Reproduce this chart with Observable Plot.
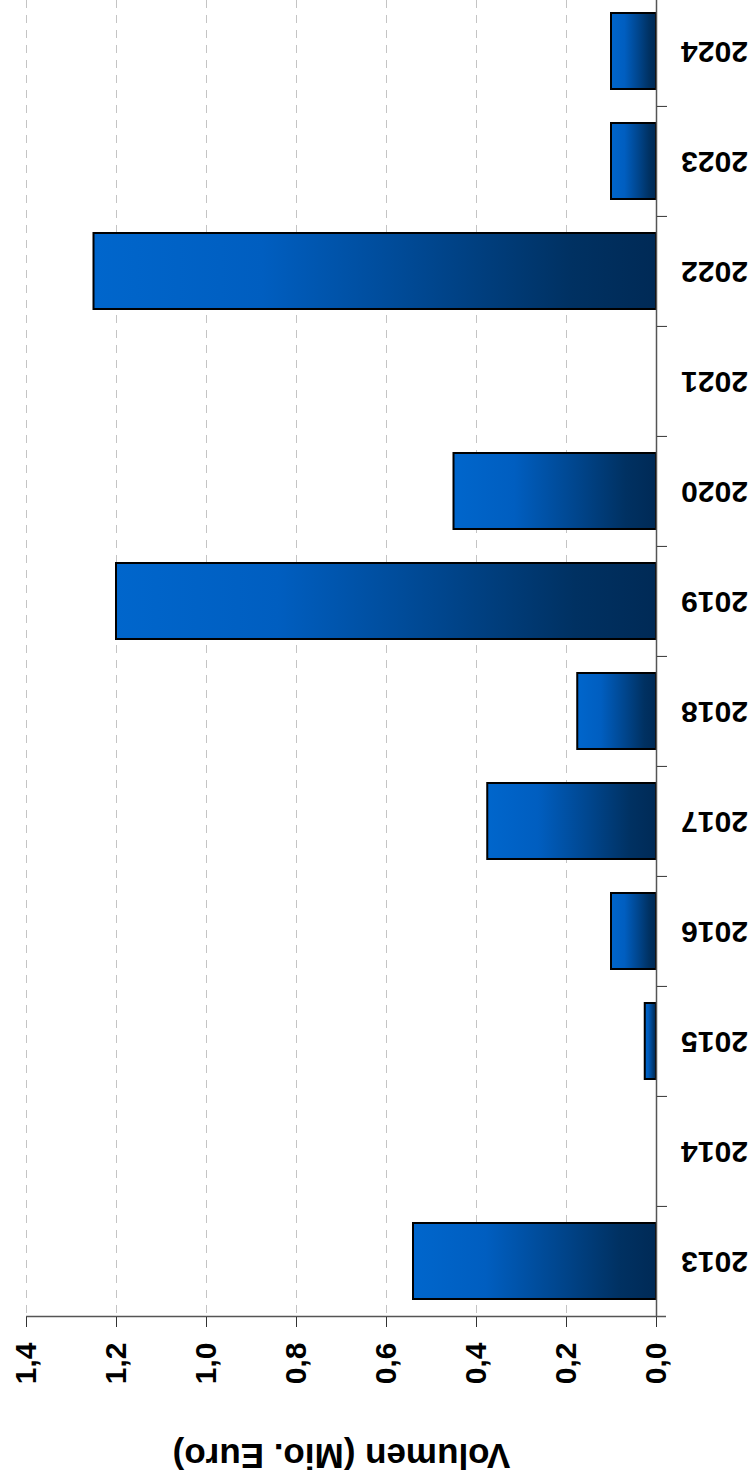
<!DOCTYPE html>
<html>
<head>
<meta charset="utf-8">
<script src="https://cdn.jsdelivr.net/npm/d3@7"></script>
<script src="https://cdn.jsdelivr.net/npm/@observablehq/plot@0.6"></script>
<style>
  html, body { margin: 0; padding: 0; background: #ffffff; }
  #chart { width: 755px; height: 1481px; overflow: hidden; }
</style>
</head>
<body>
<div id="chart"></div>
<script>
const years = ["2013", "2014", "2015", "2016", "2017", "2018", "2019", "2020", "2021", "2022", "2023", "2024"];
const volumes = [0.54, 0, 0.025, 0.1, 0.375, 0.175, 1.2, 0.45, 0, 1.25, 0.1, 0.1];
const xTicks = [0, 0.2, 0.4, 0.6, 0.8, 1.0, 1.2, 1.4];
const axisTitle = "Volumen (Mio. Euro)";

const data = years.map((y, i) => ({year: y, v: volumes[i]}));

const yRange = [-5, 1317];
const padInner = 0.31, padOuter = 0.155;
const step = (yRange[1] - yRange[0]) / (years.length - padInner + 2 * padOuter);

const gradientDefs = () => {
  const defs = d3.create("svg:defs");
  const g = defs.append("linearGradient")
    .attr("id", "barGrad").attr("x1", "0").attr("x2", "1").attr("y1", "0").attr("y2", "0");
  [[0, "#0066cc"], [0.3, "#005ec0"], [0.6, "#00468e"], [0.85, "#003162"], [1, "#002a56"]]
    .forEach(([o, c]) => g.append("stop").attr("offset", o).attr("stop-color", c));
  return defs.node();
};

const chart = Plot.plot({
  width: 755,
  height: 1481,
  marginLeft: 26,
  marginRight: 99,
  marginTop: 0,
  marginBottom: 164,
  style: {fontFamily: "'Liberation Sans', Arial, sans-serif", background: "#ffffff", color: "#000"},
  x: {domain: [0, 1.4], reverse: true, label: null},
  y: {domain: years.slice().reverse(), range: yRange, paddingInner: padInner, paddingOuter: padOuter, axis: null, label: null},
  marks: [
    gradientDefs,
    Plot.ruleX(xTicks.filter(d => d > 0), {stroke: "#c4c4c4", strokeWidth: 1, strokeDasharray: "8,7"}),
    Plot.barX(data.filter(d => d.v > 0), {x: "v", y: "year", fill: "url(#barGrad)", stroke: "#000", strokeWidth: 2}),
    Plot.ruleX([0], {stroke: "#555", strokeWidth: 1.5}),
    Plot.ruleY([years[0]], {y: d => d, dy: step / 2, insetRight: -10, stroke: "#555", strokeWidth: 1.5}),
    Plot.axisY({anchor: "right", tickSize: 10, tickFormat: () => "", dy: -step / 2, stroke: "#333"}),
    Plot.axisX(xTicks, {anchor: "bottom", tickSize: 10, tickPadding: 15, tickRotate: -90,
      tickFormat: d => d.toFixed(1).replace(".", ","), fontSize: 30, fontWeight: "bold", stroke: "#333", fill: "#000"}),
    Plot.text(years, {y: d => d, frameAnchor: "right", dx: 58, rotate: 180, textAnchor: "middle",
      fontSize: 30, fontWeight: "bold", fill: "#000"}),
    Plot.text([axisTitle], {frameAnchor: "bottom", dy: 126, rotate: 180, textAnchor: "middle",
      fontSize: 35, fontWeight: "bold", fill: "#000"})
  ]
});
document.getElementById("chart").appendChild(chart);
</script>
</body>
</html>
